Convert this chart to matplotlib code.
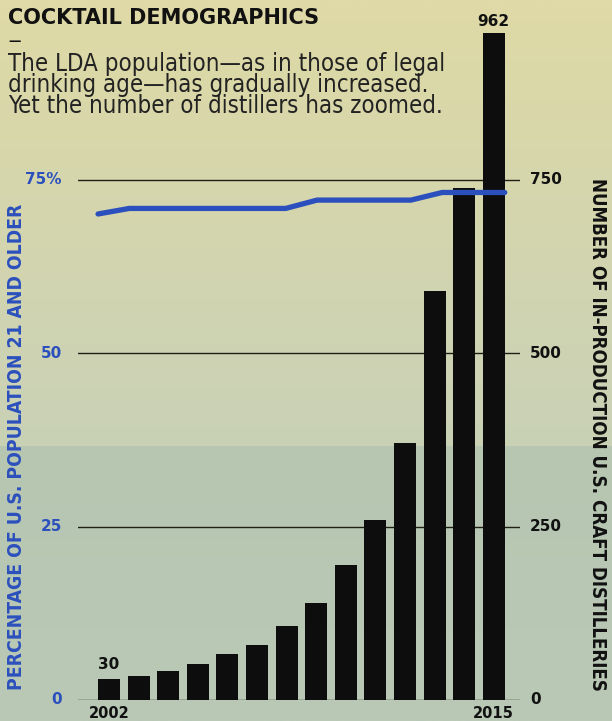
import numpy as np
import matplotlib.pyplot as plt
from matplotlib.colors import LinearSegmentedColormap

# data
years = list(range(2002, 2016))
distilleries = [30, 35, 42, 52, 67, 79, 107, 140, 195, 259, 371, 590, 738, 962]
pct_lda = [70.1, 70.9, 70.9, 70.9, 70.9, 70.9, 70.9, 72.1, 72.1, 72.1, 72.1, 73.2, 73.2, 73.2]
right_ticks = [0, 250, 500, 750]
left_ticks = [0, 25, 50, 75]
left_ticklabels = ['0', '25', '50', '75%']

blue = '#2b50bd'
fam = ['DejaVu Sans']

fig = plt.figure(figsize=(6.12, 7.21), dpi=100)

# paper background: yellowish top, greenish grey below the fold
bg = fig.add_axes([0, 0, 1, 1])
bg.set_axis_off()
top_cmap = LinearSegmentedColormap.from_list('paper', ['#dfdaa6', '#c9d1b6'])
grad = np.linspace(0, 1, 256).reshape(-1, 1)
bg.imshow(grad, cmap=top_cmap, extent=[0, 1, 1 - 447 / 721, 1], aspect='auto')
low_cmap = LinearSegmentedColormap.from_list('paper2', ['#b7c6b1', '#b9c9b6'])
bg.imshow(grad, cmap=low_cmap, extent=[0, 1, 0, 1 - 447 / 721], aspect='auto')
bg.set_xlim(0, 1)
bg.set_ylim(0, 1)

# main axes in pixel terms: x 78..520, y 700 (zero) up to 25
ax = fig.add_axes([78 / 612, 21 / 721, 442 / 612, 675 / 721])
ax.patch.set_alpha(0)
x = np.arange(len(years))
step = 29.6
ax.set_xlim(-(109 - 78) / step, (520 - 109) / step)
ymax = 675 / (520 / 750)
ax.set_ylim(0, ymax)

ax.bar(x, distilleries, width=22 / step, color='#0d0d0d', zorder=2)

for v in right_ticks:
    ax.axhline(v, color='#1f1f14', lw=1.0, zorder=1)

# percentage line, scaled onto the same axis (75% == 750)
lx = np.linspace(-0.37, 13.37, len(years))
ax.plot(lx, np.array(pct_lda) * 10, color=blue, lw=3.8, solid_capstyle='round',
        solid_joinstyle='round', zorder=3)

for s in ax.spines.values():
    s.set_visible(False)
ax.set_xticks([])
ax.set_yticks([])

# right tick labels
for v in right_ticks:
    ax.text(1.0 + 10 / 442, v, str(v), transform=ax.get_yaxis_transform(),
            ha='left', va='center', fontsize=11, fontweight='bold', color='#111111',
            family=fam)
# left tick labels (blue)
for v, lab in zip(left_ticks, left_ticklabels):
    ax.text(-16 / 442, v * 10, lab, transform=ax.get_yaxis_transform(),
            ha='right', va='center', fontsize=11, fontweight='bold', color=blue,
            family=fam)

# year labels and value labels
ax.text(x[0], -8, str(years[0]), ha='center', va='top', fontsize=10.5,
        fontweight='bold', color='#111111', family=fam, clip_on=False)
ax.text(x[-1], -8, str(years[-1]), ha='center', va='top', fontsize=10.5,
        fontweight='bold', color='#111111', family=fam, clip_on=False)
ax.text(x[0], distilleries[0] + 10, str(distilleries[0]), ha='center', va='bottom',
        fontsize=11, fontweight='bold', color='#111111', family=fam)
ax.text(x[-1], distilleries[-1] + 6, str(distilleries[-1]), ha='center', va='bottom',
        fontsize=11, fontweight='bold', color='#111111', family=fam, clip_on=False)

# axis titles
fig.text(17 / 612, 1 - 447 / 721, 'PERCENTAGE OF U.S. POPULATION 21 AND OLDER',
         rotation=90, ha='center', va='center', fontsize=13.9, fontweight='bold',
         fontstretch='condensed', color=blue, family=fam)
fig.text(597 / 612, 1 - 434 / 721, 'NUMBER OF IN-PRODUCTION U.S. CRAFT DISTILLERIES',
         rotation=-90, ha='center', va='center', fontsize=13.4, fontweight='bold',
         fontstretch='condensed', color='#111111', family=fam)

# headline
fig.text(8 / 612, 1 - 18 / 721, 'COCKTAIL DEMOGRAPHICS', ha='left', va='center',
         fontsize=15, fontweight='heavy', color='#111111', family=fam)
fig.text(8 / 612, 1 - 41 / 721, '\u2014', ha='left', va='center', fontsize=9,
         fontweight='heavy', color='#111111', family=fam)
fig.text(8 / 612, 1 - 52 / 721,
         'The LDA population\u2014as in those of legal\n'
         'drinking age\u2014has gradually increased.\n'
         'Yet the number of distillers has zoomed.',
         ha='left', va='top', fontsize=17.2, color='#222222', linespacing=0.84,
         fontstretch='condensed', family=fam)

plt.savefig('out.png', dpi=100)
